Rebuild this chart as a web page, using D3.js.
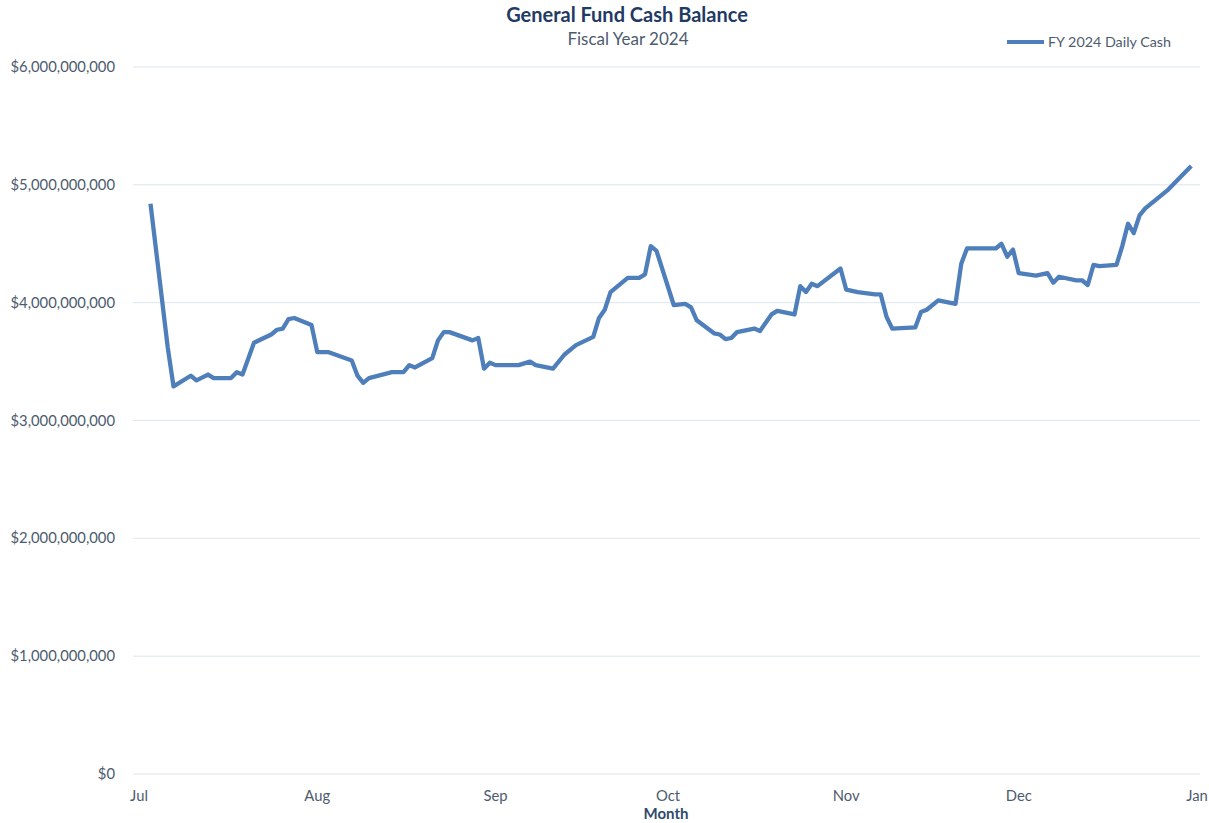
<!DOCTYPE html>
<html>
<head>
<meta charset="utf-8">
<script src="https://cdn.jsdelivr.net/npm/d3@7"></script>
<style>
	body { margin: 0; background: #fff; }
	svg { font-family: Lato, 'Open Sans', sans-serif; }
	.gridline { stroke: #dde5ec; stroke-width: 1; }
	.tick-label { fill: #4d5b6e; font-size: 14.8px; }
</style>
</head>
<body>
<svg id="chart" width="1209" height="823"></svg>
<script>
const dates = [
	'2023-07-03','2023-07-06','2023-07-07','2023-07-10','2023-07-11','2023-07-13','2023-07-14',
	'2023-07-17','2023-07-18','2023-07-19','2023-07-21','2023-07-24','2023-07-25','2023-07-26',
	'2023-07-27','2023-07-28','2023-07-31','2023-08-01','2023-08-03','2023-08-07','2023-08-08',
	'2023-08-09','2023-08-10','2023-08-14','2023-08-16','2023-08-17','2023-08-18','2023-08-21',
	'2023-08-22','2023-08-23','2023-08-24','2023-08-28','2023-08-29','2023-08-30','2023-08-31',
	'2023-09-01','2023-09-05','2023-09-07','2023-09-08','2023-09-11','2023-09-13','2023-09-15',
	'2023-09-18','2023-09-19','2023-09-20','2023-09-21','2023-09-24','2023-09-26','2023-09-27',
	'2023-09-28','2023-09-29','2023-10-02','2023-10-04','2023-10-05','2023-10-06','2023-10-09',
	'2023-10-10','2023-10-11','2023-10-12','2023-10-13','2023-10-16','2023-10-17','2023-10-19',
	'2023-10-20','2023-10-23','2023-10-24','2023-10-25','2023-10-26','2023-10-27','2023-10-31',
	'2023-11-01','2023-11-03','2023-11-06','2023-11-07','2023-11-08','2023-11-09','2023-11-13',
	'2023-11-14','2023-11-15','2023-11-17','2023-11-20','2023-11-21','2023-11-22','2023-11-27',
	'2023-11-28','2023-11-29','2023-11-30','2023-12-01','2023-12-04','2023-12-06','2023-12-07',
	'2023-12-08','2023-12-11','2023-12-12','2023-12-13','2023-12-14','2023-12-15','2023-12-18',
	'2023-12-19','2023-12-20','2023-12-21','2023-12-22','2023-12-23','2023-12-27','2023-12-31'
]

// daily cash, billions of dollars
const cash = [
	4.84, 3.62, 3.29, 3.38, 3.34, 3.39, 3.36,
	3.36, 3.41, 3.39, 3.66, 3.73, 3.77, 3.78,
	3.86, 3.87, 3.81, 3.58, 3.58, 3.51, 3.38,
	3.32, 3.36, 3.41, 3.41, 3.47, 3.45, 3.53,
	3.68, 3.75, 3.75, 3.68, 3.70, 3.44, 3.49,
	3.47, 3.47, 3.50, 3.47, 3.44, 3.56, 3.64,
	3.71, 3.87, 3.94, 4.09, 4.21, 4.21, 4.24,
	4.48, 4.44, 3.98, 3.99, 3.96, 3.85, 3.74,
	3.73, 3.69, 3.70, 3.75, 3.78, 3.76, 3.90,
	3.93, 3.90, 4.14, 4.09, 4.16, 4.14, 4.29,
	4.11, 4.09, 4.07, 4.07, 3.88, 3.78, 3.79,
	3.92, 3.94, 4.02, 3.99, 4.33, 4.46, 4.46,
	4.50, 4.39, 4.45, 4.25, 4.23, 4.25, 4.17,
	4.22, 4.19, 4.19, 4.15, 4.32, 4.31, 4.32,
	4.48, 4.67, 4.59, 4.74, 4.80, 4.96, 5.16
]

const yTicks = [0, 1e9, 2e9, 3e9, 4e9, 5e9, 6e9]
const monthTicks = ['2023-07-01','2023-08-01','2023-09-01','2023-10-01','2023-11-01','2023-12-01','2024-01-01']

const parse = d3.timeParse('%Y-%m-%d')
const data = dates.map((d, i) => ({ date: parse(d), value: cash[i]*1e9 }))

const svg = d3.select('#chart')

const x = d3.scaleTime()
	.domain([parse('2023-07-01'), parse('2024-01-01')])
	.range([139, 1197])

const y = d3.scaleLinear()
	.domain([0, 6e9])
	.range([774, 67])

// gridlines + y labels
const yg = svg.append('g')
	.selectAll('g')
	.data(yTicks)
	.enter()
	.append('g')
	.attr('transform', d => `translate(0, ${y(d)})`)

yg.append('line')
	.attr('class', 'gridline')
	.attr('x1', 133)
	.attr('x2', 1200)

yg.append('text')
	.attr('class', 'tick-label')
	.attr('x', 115)
	.attr('dy', 5)
	.attr('text-anchor', 'end')
	.text(d => d3.format('$,')(d))

// month labels
svg.append('g')
	.selectAll('text')
	.data(monthTicks.map(parse))
	.enter()
	.append('text')
	.attr('class', 'tick-label')
	.attr('x', d => x(d))
	.attr('y', 801)
	.attr('text-anchor', 'middle')
	.text(d3.timeFormat('%b'))

svg.append('text')
	.attr('x', 666)
	.attr('y', 819)
	.attr('text-anchor', 'middle')
	.attr('font-weight', 'bold')
	.attr('font-size', 15)
	.attr('fill', '#2f4a6d')
	.text('Month')

// line
const line = d3.line()
	.x(d => x(d.date))
	.y(d => y(d.value))

svg.append('path')
	.datum(data)
	.attr('d', line)
	.attr('fill', 'none')
	.attr('stroke', '#4f7fbb')
	.attr('stroke-width', 4.3)
	.attr('stroke-linejoin', 'round')

// titles
svg.append('text')
	.attr('x', 627)
	.attr('y', 22)
	.attr('text-anchor', 'middle')
	.attr('font-weight', 'bold')
	.attr('font-size', 20)
	.attr('fill', '#1f3b64')
	.text('General Fund Cash Balance')

svg.append('text')
	.attr('x', 628)
	.attr('y', 45)
	.attr('text-anchor', 'middle')
	.attr('font-size', 17)
	.attr('fill', '#4d5b6e')
	.text('Fiscal Year 2024')

// legend
const legend = svg.append('g').attr('transform', 'translate(1007, 42)')
legend.append('line')
	.attr('x1', 0).attr('x2', 37)
	.attr('stroke', '#4f7fbb')
	.attr('stroke-width', 4)
legend.append('text')
	.attr('x', 41)
	.attr('dy', 5)
	.attr('font-size', 14.3)
	.attr('fill', '#4d5b6e')
	.text('FY 2024 Daily Cash')
</script>
</body>
</html>
